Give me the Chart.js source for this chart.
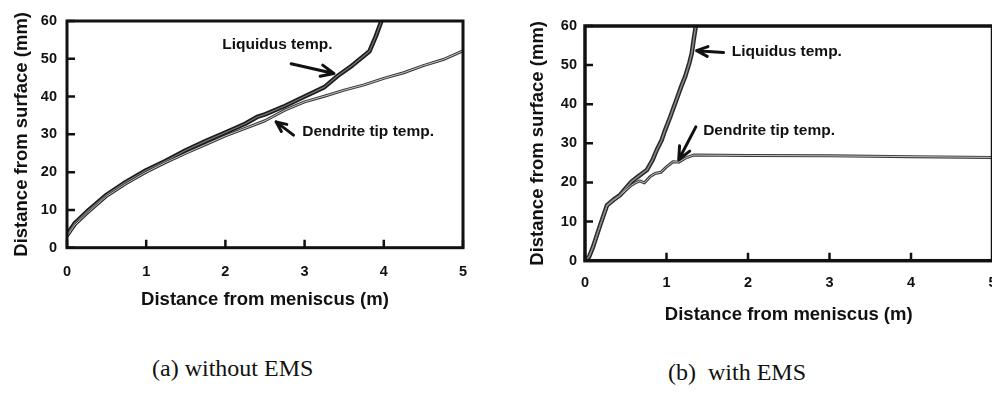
<!DOCTYPE html>
<html><head><meta charset="utf-8">
<script src="https://cdn.jsdelivr.net/npm/chart.js@4"></script>
<style>
html,body{margin:0;padding:0;width:992px;height:397px;overflow:hidden;background:#fff;}
#c1{position:absolute;left:0;top:0;}
#c2{position:absolute;left:500px;top:0;}
.cap{position:absolute;font-family:'Liberation Serif','Times New Roman',serif;font-size:24px;color:#111;white-space:pre;line-height:1;}
</style></head>
<body>
<canvas id="c1" width="490" height="330"></canvas>
<canvas id="c2" width="510" height="340"></canvas>
<div class="cap" style="left:152px;top:356px">(a) without EMS</div>
<div class="cap" style="left:668px;top:360px">(b)  with EMS</div>
<script>
// ---------- data ----------
const xTicks = [0, 1, 2, 3, 4, 5];
const yTicks = [0, 10, 20, 30, 40, 50, 60];
const xTitle = 'Distance from meniscus (m)';
const yTitle = 'Distance from surface (mm)';
const seriesNames = ['Liquidus temp.', 'Dendrite tip temp.'];
const captions = ['(a) without EMS', '(b)  with EMS'];

// (a) without EMS
const aLiqX = [0, 0.1, 0.25, 0.5, 0.75, 1.0, 1.25, 1.5, 1.75, 2.0, 2.25, 2.4, 2.5, 2.75, 3.0, 3.25, 3.42, 3.6, 3.82, 3.9, 3.97];
const aLiqY = [3.5, 6.5, 9.5, 14, 17.5, 20.5, 23, 25.8, 28.2, 30.5, 32.8, 34.6, 35.3, 37.5, 40, 42.5, 45.5, 48.2, 52, 56, 60];
const aDenX = [0, 0.1, 0.25, 0.5, 0.75, 1.0, 1.25, 1.5, 1.75, 2.0, 2.25, 2.5, 2.75, 3.0, 3.25, 3.5, 3.75, 4.0, 4.25, 4.5, 4.75, 5.0];
const aDenY = [3, 6, 9, 13.6, 17, 20, 22.6, 25, 27.3, 29.6, 31.6, 33.6, 36.4, 38.6, 40.1, 41.7, 43.1, 44.8, 46.3, 48.2, 49.8, 52.1];

// (b) with EMS
const bLiqX = [0, 0.05, 0.10, 0.18, 0.27, 0.35, 0.43, 0.50, 0.57, 0.65, 0.76, 0.83, 0.88, 0.94, 0.98, 1.05, 1.12, 1.18, 1.23, 1.28, 1.31, 1.33, 1.36];
const bLiqY = [0, 1, 3.6, 8.7, 14.2, 15.6, 16.8, 18.5, 20.2, 21.5, 23.2, 25.8, 28.3, 30.8, 33.2, 37, 41, 44.5, 47.1, 50.5, 53, 56, 60];
const bDenX = [0, 0.05, 0.10, 0.18, 0.27, 0.35, 0.43, 0.50, 0.57, 0.61, 0.67, 0.73, 0.80, 0.86, 0.93, 1.0, 1.08, 1.15, 1.23, 1.33, 2, 3, 4, 5];
const bDenY = [0, 1, 3.6, 8.7, 14, 15.4, 16.6, 18, 19.3, 19.8, 20.4, 19.9, 21.5, 22.3, 22.6, 24, 25.3, 25.2, 26.2, 27, 26.9, 26.8, 26.6, 26.4];

// ---------- helpers ----------
const pts = (xs, ys) => xs.map((x, i) => ({x, y: ys[i]}));
Chart.defaults.font.family = "'Liberation Sans', Arial, Helvetica, sans-serif";
Chart.defaults.font.weight = 'bold';
Chart.defaults.color = '#111';

function drawArrow(ctx, x1, y1, x2, y2, head, lw) {
  const ang = Math.atan2(y2 - y1, x2 - x1);
  ctx.lineWidth = lw;
  ctx.beginPath();
  ctx.moveTo(x1, y1); ctx.lineTo(x2, y2);
  ctx.moveTo(x2, y2); ctx.lineTo(x2 - head * Math.cos(ang - 0.42), y2 - head * Math.sin(ang - 0.42));
  ctx.moveTo(x2, y2); ctx.lineTo(x2 - head * Math.cos(ang + 0.42), y2 - head * Math.sin(ang + 0.42));
  ctx.stroke();
}

const framePlugin = {
  id: 'frame',
  afterDatasetsDraw(chart, args, opts) {
    const {ctx, chartArea: a, scales: {x, y}} = chart;
    ctx.save();
    ctx.strokeStyle = '#111';
    ctx.lineCap = 'butt';
    ctx.lineWidth = opts.frameW || 3;
    ctx.strokeRect(a.left, a.top, a.right - a.left, a.bottom - a.top);
    ctx.lineWidth = 2.5;
    ctx.beginPath();
    x.ticks.forEach(t => { const px = x.getPixelForValue(t.value); ctx.moveTo(px, a.bottom); ctx.lineTo(px, a.bottom - 8); });
    y.ticks.forEach(t => { const py = y.getPixelForValue(t.value); ctx.moveTo(a.left, py); ctx.lineTo(a.left + 8, py); });
    ctx.stroke();
    ctx.fillStyle = '#111';
    ctx.font = "bold 15.5px 'Liberation Sans', Arial, sans-serif";
    ctx.textBaseline = 'middle';
    ctx.textAlign = 'left';
    (opts.notes || []).forEach(n => {
      ctx.fillText(n.text, x.getPixelForValue(n.x), y.getPixelForValue(n.y));
    });
    ctx.lineCap = 'round';
    (opts.arrows || []).forEach(r => {
      drawArrow(ctx, x.getPixelForValue(r.x1), y.getPixelForValue(r.y1),
                x.getPixelForValue(r.x2), y.getPixelForValue(r.y2), r.head, r.lw);
    });
    ctx.restore();
  }
};

function lineSets(liq, den, c) {
  return [
    {label: seriesNames[0] + ' core', data: liq, borderColor: c.liqIn, borderWidth: c.liqInW, order: 0},
    {label: seriesNames[1] + ' core', data: den, borderColor: c.denIn, borderWidth: c.denInW, order: 1},
    {label: seriesNames[0], data: liq, borderColor: c.liqOut, borderWidth: c.liqOutW, order: 2},
    {label: seriesNames[1], data: den, borderColor: c.denOut, borderWidth: c.denOutW, order: 3}
  ].map(d => Object.assign(d, {pointRadius: 0, tension: 0, fill: false, borderJoinStyle: 'round', borderCapStyle: 'round'}));
}

function makeChart(id, liq, den, L) {
  return new Chart(document.getElementById(id), {
    type: 'line',
    data: {datasets: lineSets(liq, den, L.colors)},
    plugins: [framePlugin],
    options: {
      responsive: false, animation: false, devicePixelRatio: 1,
      layout: {padding: L.padding},
      plugins: {legend: {display: false}, tooltip: {enabled: false}, frame: {notes: L.notes, arrows: L.arrows, frameW: L.frameW}},
      scales: {
        x: {
          type: 'linear', min: 0, max: 5,
          afterBuildTicks: s => { s.ticks = xTicks.map(v => ({value: v})); },
          afterFit: s => { s.height = L.xH; },
          grid: {display: false, drawTicks: false}, border: {display: false},
          ticks: {padding: L.xTickPad, font: {size: 14.5, weight: 'bold'}, color: '#111', maxRotation: 0, autoSkip: false},
          title: {display: true, text: xTitle, font: {size: 18.5, weight: 'bold'}, color: '#111', padding: {top: 0, bottom: L.xTitlePad}}
        },
        y: {
          type: 'linear', min: 0, max: 60,
          afterBuildTicks: s => { s.ticks = yTicks.map(v => ({value: v})); },
          afterFit: s => { s.width = L.yW; },
          grid: {display: false, drawTicks: false}, border: {display: false},
          ticks: {padding: L.yTickPad, font: {size: 14.5, weight: 'bold'}, color: '#111'},
          title: {display: true, text: yTitle, font: {size: 18.5, weight: 'bold'}, color: '#111', padding: {top: L.yTitlePad, bottom: 0}}
        }
      }
    }
  });
}

makeChart('c1', pts(aLiqX, aLiqY), pts(aDenX, aDenY), {
  padding: {left: 0, top: 21, right: 27, bottom: 0}, frameW: 3,
  yW: 67, xH: 82.3, xTickPad: 15.4, yTickPad: 10, xTitlePad: 19, yTitlePad: 11,
  colors: {liqOut: '#1c1c1c', liqOutW: 4.5, liqIn: '#777', liqInW: 1.2, denOut: '#3a3a3a', denOutW: 3, denIn: '#c4c4c4', denInW: 1},
  notes: [{text: seriesNames[0], x: 1.96, y: 53.8}, {text: seriesNames[1], x: 2.97, y: 30.7}],
  arrows: [{x1: 2.83, y1: 48.7, x2: 3.37, y2: 46.1, head: 14, lw: 3}, {x1: 2.86, y1: 29.8, x2: 2.64, y2: 33.3, head: 11, lw: 3}]
});

makeChart('c2', pts(bLiqX, bLiqY), pts(bDenX, bDenY), {
  padding: {left: 0, top: 26, right: 17.5, bottom: 0}, frameW: 3.5,
  yW: 85, xH: 79.3, xTickPad: 13.4, yTickPad: 8, xTitlePad: 14, yTitlePad: 27,
  colors: {liqOut: '#2a2a2a', liqOutW: 4.5, liqIn: '#8a8a8a', liqInW: 1.5, denOut: '#3a3a3a', denOutW: 3, denIn: '#c4c4c4', denInW: 1},
  notes: [{text: seriesNames[0], x: 1.80, y: 53.5}, {text: seriesNames[1], x: 1.45, y: 33.2}],
  arrows: [{x1: 1.70, y1: 53.2, x2: 1.37, y2: 53.7, head: 12, lw: 3}, {x1: 1.36, y1: 34.2, x2: 1.15, y2: 25.8, head: 14, lw: 3}]
});
</script>
</body></html>
